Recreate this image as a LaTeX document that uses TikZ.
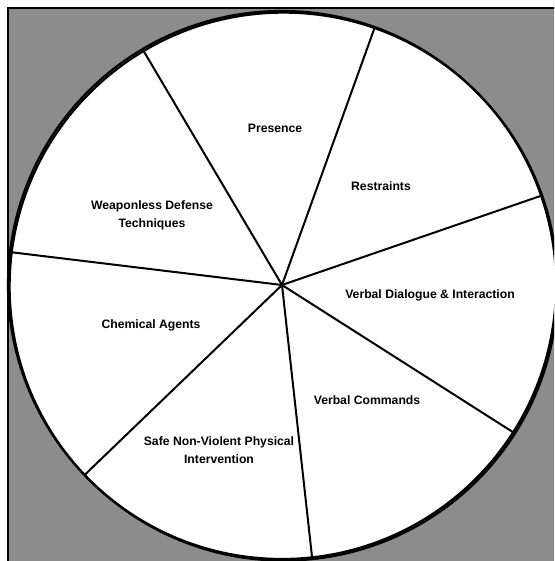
\documentclass[tikz,border=0pt]{standalone}
\usepackage{fontspec}
\setmainfont{Liberation Sans}
\usetikzlibrary{calc}
\begin{document}
\begin{tikzpicture}[x=1pt,y=1pt,
  spoke/.style={line width=2pt},
  rim/.style={line width=2.2pt},
  lbl/.style={font=\fontsize{12.2}{18}\selectfont\bfseries, align=center, inner sep=0pt}]
\useasboundingbox (0,0) rectangle (554,561);
\begin{scope}
\clip (0,0) rectangle (554,561);
\coordinate (hub) at (282,276);
% dithered-looking gray background outside the circle
\fill[black!45, even odd rule] (8,-10) rectangle (570,553) (hub) circle (274);
% frame lines
\draw[line width=1.6pt] (8,-10) -- (8,553) -- (570,553);
% circle (thicker toward lower right)
\draw[rim] (hub) circle (274);
\draw[rim] ($(hub)+(1.6,-1.6)$) circle (274);
% spokes
\coordinate (r1) at ($(hub)+(70.2:274)$);
\coordinate (r2) at ($(hub)+(120.6:274)$);
\coordinate (r3) at ($(hub)+(173.1:274)$);
\coordinate (r4) at ($(hub)+(223.9:274)$);
\coordinate (r5) at ($(hub)+(276.3:274)$);
\coordinate (r6) at ($(hub)+(327.5:274)$);
\coordinate (r7) at ($(hub)+(19.0:274)$);
\foreach \r in {r1,r2,r3,r4,r5,r6,r7} \draw[spoke] (hub) -- (\r);
% labels
\node[lbl] (presence) at (275,433) {Presence};
\node[lbl] (restraints) at (381,375) {Restraints};
\node[lbl] (weaponless) at (152,345.5) {Weaponless Defense\\Techniques};
\node[lbl] (dialogue) at (430,266) {Verbal Dialogue \& Interaction};
\node[lbl] (chemical) at (151,236) {Chemical Agents};
\node[lbl] (commands) at (367,161) {Verbal Commands};
\node[lbl] (safe) at (219,110.5) {Safe Non-Violent Physical\\Intervention};
\end{scope}
\end{tikzpicture}
\end{document}
